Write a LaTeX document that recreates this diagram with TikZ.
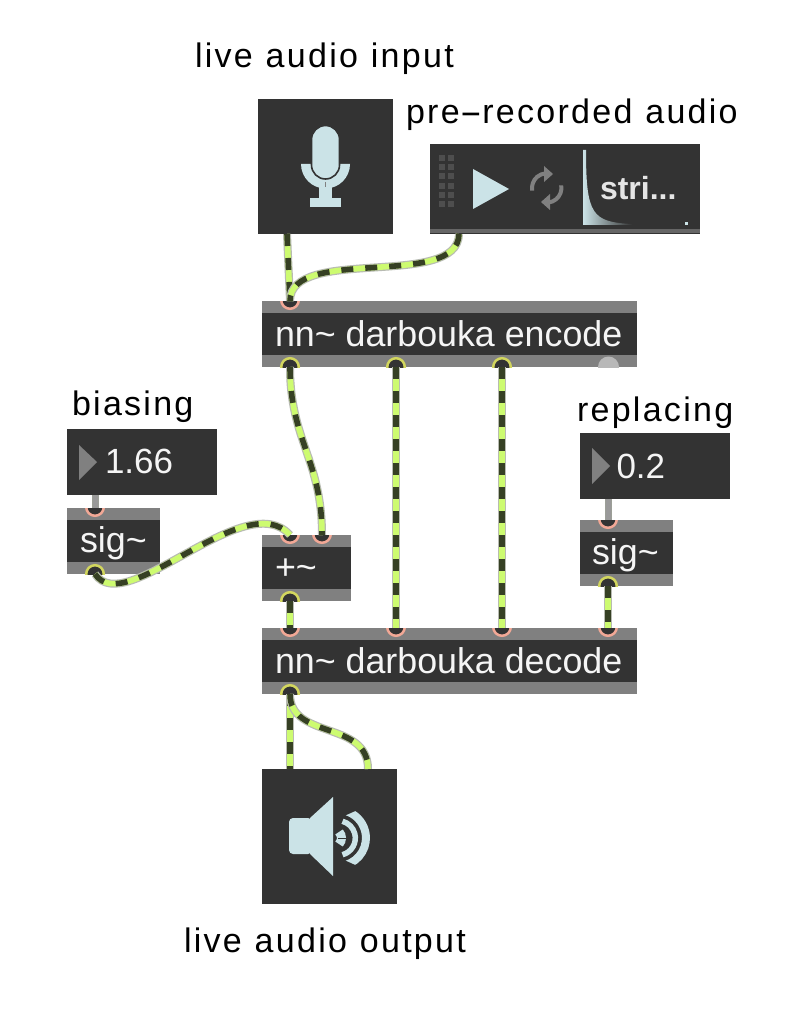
\documentclass[tikz,border=0pt]{standalone}
\usepackage{fontspec}
\setmainfont{Liberation Sans}
\newfontfamily\labfont[LetterSpace=6.7,WordSpace=1.1]{Liberation Sans}
\definecolor{objdark}{HTML}{333333}
\definecolor{objgrey}{HTML}{808080}
\definecolor{iconblue}{HTML}{CBE3E7}
\definecolor{inletc}{HTML}{F2A896}
\definecolor{outletc}{HTML}{D2D65E}
\definecolor{cableg}{HTML}{CDFB70}
\definecolor{cabled}{HTML}{364024}
\definecolor{cableo}{HTML}{B8BBB2}
\tikzset{
  every node/.style={inner sep=0pt,outer sep=0pt},
  lab/.style={anchor=base west,text=black,font=\labfont\fontsize{34}{34}\selectfont},
  objtxt/.style={anchor=base west,text=white!96!black,font=\fontsize{35.8}{36}\selectfont},
  numtxt/.style={anchor=base west,text=white!96!black,font=\fontsize{35}{35}\selectfont},
  band/.style={fill=objdark,anchor=north west,minimum height=42pt},
  sigcable/.style={draw=cableo,line width=8pt,
    postaction={draw=cableg,line width=5.6pt},
    postaction={draw=cabled,line width=5.6pt,dash pattern=on 12pt off 12pt}},
  msgcable/.style={draw=cableo!85!black,line width=7pt,
    postaction={draw=objgrey!80!white,line width=5pt}},
}
% \objbox{name}{left}{top}{width}
\newcommand{\objbox}[4]{%
  \fill[objgrey] (#2,#3) rectangle ++(#4,66);
  \node[band,minimum width=#4 pt] (#1) at (#2,#3+12) {};
}
% \inport{name}{x}{y}
\newcommand{\inport}[3]{%
  \begin{scope}
    \clip (#2-13,#3) rectangle (#2+13,#3+13);
    \filldraw[draw=inletc,fill=objdark,line width=2.5pt] (#2,#3-1) circle[radius=8.8pt];
  \end{scope}
  \coordinate (#1) at (#2,#3);
}
\newcommand{\outport}[3]{%
  \begin{scope}
    \clip (#2-13,#3) rectangle (#2+13,#3-13);
    \filldraw[draw=outletc,fill=objdark,line width=2.5pt] (#2,#3) circle[radius=8.8pt];
  \end{scope}
  \coordinate (#1) at (#2,#3);
}
\begin{document}
\begin{tikzpicture}[x=1pt,y=-1pt]
\useasboundingbox (0,0) rectangle (804,1032);
\fill[white] (0,0) rectangle (804,1032);

% labels
\node[lab] (l1) at (195,67.5) {live audio input};
\node[lab] (l2) at (406,124) {pre\scalebox{2}[1]{-}recorded audio};
\node[lab] (l3) at (72,415) {biasing};
\node[lab] (l4) at (577,421.5) {replacing};
\node[lab] (l5) at (184,952) {live audio output};

% microphone object
\node[fill=objdark,anchor=north west,minimum width=135pt,minimum height=135pt] (mic) at (258,99) {};
\fill[iconblue] (301,164) -- (350,164) arc[start angle=0,end angle=-180,radius=24.5pt] -- cycle;
\fill[iconblue] (319,184) rectangle (332,199);
\fill[iconblue] (310,198) rectangle (341,207);
\filldraw[draw=objdark,fill=iconblue,line width=1.6pt]
  (311.5,139.5) arc[start angle=180,end angle=0,radius=14pt]
  -- (339.5,165) arc[start angle=0,end angle=-180,radius=14pt] -- cycle;
\draw[objgrey,line width=0.5pt] (325.5,182) -- (325.5,187);

% player object
\node[fill=objdark,anchor=north west,minimum width=270pt,minimum height=90pt] (player) at (430,144) {};
\fill[objdark!75!white] (430,229) rectangle (700,233);
\foreach \gy in {155,164.2,173.4,182.6,191.8,201}{
  \fill[objgrey!35!objdark] (439,\gy) rectangle +(6,6);
  \fill[objgrey!35!objdark] (448,\gy) rectangle +(6,6);
}
\fill[iconblue] (473,169) -- (509,189) -- (473,209) -- cycle;
\draw[objgrey,line width=4pt] (532.2,190.6) arc[start angle=190,end angle=95,radius=14.7pt];
\draw[objgrey,line width=4pt] (561.2,185.4) arc[start angle=10,end angle=-85,radius=14.7pt];
\fill[objgrey] (544,166) -- (544,182) -- (553,174) -- cycle;
\fill[objgrey] (550,194) -- (550,210) -- (541,202) -- cycle;
\shade[left color=iconblue,right color=objdark]
  (583,150) -- (586,150) .. controls (586,215) and (592,222) .. (632,224) -- (632,225) -- (583,225) -- cycle;
\fill[iconblue] (684.5,222) rectangle (687.5,225);
\node[anchor=base west,text=white!90!black,font=\bfseries\fontsize{32}{32}\selectfont] (fname) at (600,200) {stri...};

% encode
\objbox{enc}{262}{301}{375}
\node[objtxt] (enct) at (275,346) {nn\string~ darbouka encode};
\inport{encin}{290}{301}
\outport{encoa}{290}{367}
\outport{encob}{396}{367}
\outport{encoc}{502}{367}
\begin{scope}
  \clip (595,355) rectangle (622,367);
  \fill[white!72!black] (608.5,367) circle[radius=10.5pt];
\end{scope}

% number boxes
\node[fill=objdark,anchor=north west,minimum width=150pt,minimum height=66pt] (numa) at (67,429) {};
\fill[objgrey] (79,445) -- (97,462) -- (79,480) -- cycle;
\node[numtxt] (numat) at (105,473.5) {1.66};
\node[fill=objdark,anchor=north west,minimum width=150pt,minimum height=66pt] (numb) at (580,433) {};
\fill[objgrey] (592,448) -- (610,466) -- (592,484) -- cycle;
\node[numtxt] (numbt) at (616.5,478.5) {0.2};

% sig~ left
\objbox{siga}{67}{508}{93}
\node[objtxt] (sigat) at (80,552) {sig\string~};
\inport{sigain}{95}{508}
\outport{sigaout}{95}{574}

% +~
\objbox{plus}{262}{535}{89}
\node[objtxt] (plust) at (275,579) {+\string~};
\inport{plusa}{290}{535}
\inport{plusb}{322}{535}
\outport{plusout}{290}{601}

% sig~ right
\objbox{sigb}{580}{520}{93}
\node[objtxt] (sigbt) at (592,564) {sig\string~};
\inport{sigbin}{608}{520}
\outport{sigbout}{608}{586}

% decode
\objbox{dec}{262}{628}{375}
\node[objtxt] (dect) at (275,673) {nn\string~ darbouka decode};
\inport{decia}{290}{628}
\inport{decib}{396}{628}
\inport{decic}{502}{628}
\inport{decid}{608}{628}
\outport{decout}{290}{694}

% speaker
\node[fill=objdark,anchor=north west,minimum width=135pt,minimum height=135pt] (spk) at (262,769) {};
\fill[iconblue,rounded corners=4pt] (289,818) rectangle (312,854);
\fill[iconblue] (310,818) -- (333,797) -- (333,876) -- (310,854) -- cycle;
\begin{scope}
  \clip (295,838) -- (378,875) -- (378,801) -- cycle;
  \draw[iconblue,line width=8pt] (345.2,865) arc[start angle=-75,end angle=75,radius=28pt];
  \draw[iconblue,line width=5.5pt] (342.5,854.7) arc[start angle=-75,end angle=75,radius=17.3pt];
\end{scope}
\draw[iconblue,line width=9pt] (339,844) arc[start angle=-45,end angle=45,radius=8.5pt];
\draw[objdark,line width=0.6pt] (338,838) -- (347,838);

% cable endpoints on objects
\coordinate (micout) at (287,234);
\coordinate (playerout) at (459,234);
\coordinate (numaout) at (95,495);
\coordinate (numbout) at (608,499);
\coordinate (spkina) at (290,769);
\coordinate (spkinb) at (368,769);

% cables
\draw[msgcable] (numaout) -- (sigain);
\draw[msgcable] (numbout) -- (sigbin);
\draw[sigcable] (micout) -- (encin);
\draw[sigcable] (playerout) .. controls (458,290) and (290,245) .. (encin);
\draw[sigcable] (encoa) .. controls (290,440) and (322,460) .. (plusb);
\draw[sigcable] (encob) -- (decib);
\draw[sigcable] (encoc) -- (decic);
\draw[sigcable] (sigaout) .. controls (125,620) and (245,485) .. (plusa);
\draw[sigcable] (plusout) -- (decia);
\draw[sigcable] (sigbout) -- (decid);
\draw[sigcable] (decout) -- (spkina);
\draw[sigcable] (decout) .. controls (290,740) and (368,720) .. (spkinb);
\end{tikzpicture}
\end{document}
